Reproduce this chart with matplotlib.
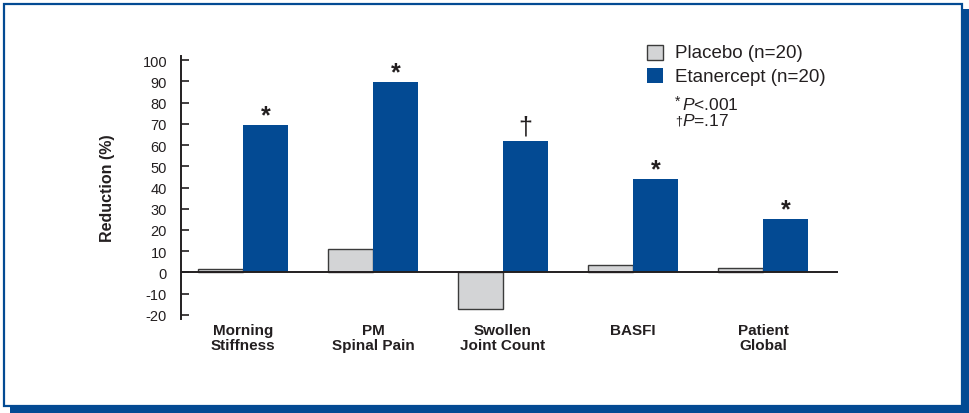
import numpy as np
import matplotlib.pyplot as plt
from matplotlib.patches import Rectangle

plt.rcParams['font.family'] = ['Liberation Sans', 'DejaVu Sans']
plt.rcParams['axes.unicode_minus'] = False
plt.rcParams['mathtext.fontset'] = 'custom'
plt.rcParams['mathtext.rm'] = 'Liberation Sans'
plt.rcParams['mathtext.it'] = 'Liberation Sans:italic'

categories = ['Morning\nStiffness', 'PM\nSpinal Pain', 'Swollen\nJoint Count',
              'BASFI', 'Patient\nGlobal']
placebo = [1.5, 11, -17, 3.5, 2]
etanercept = [69.5, 89.5, 62, 44, 25]
markers = ['*', '*', '\u2020', '*', '*']
yticks = list(range(-20, 101, 10))

BLUE = '#034a93'
GRAY = '#d3d4d6'
DARK = '#231f20'

W, H = 970, 414
fig = plt.figure(figsize=(W / 100, H / 100), dpi=100)


def px(x, y):
    # pixel position (from top-left) -> figure fraction
    return x / W, 1 - y / H


# panel frame with drop shadow, kept behind the axes
fig.patches.append(Rectangle(px(10, 414), 960 / W, 404 / H, transform=fig.transFigure,
                             facecolor=BLUE, edgecolor='none', zorder=-2))
fig.patches.append(Rectangle(px(4, 406.5), 958.5 / W, 401.5 / H, transform=fig.transFigure,
                             facecolor='white', edgecolor=BLUE, linewidth=1.6, zorder=-1))

ax = fig.add_axes([181 / W, (H - 320) / H, 657 / W, 263 / H])
ax.set_facecolor('none')
ax.set_zorder(2)

x = np.arange(len(categories))
width = 0.346
ax.bar(x - width / 2, placebo, width, color=GRAY, edgecolor='#3b3b3b', linewidth=1.0, zorder=2)
ax.bar(x + width / 2, etanercept, width, color=BLUE, edgecolor='none', zorder=2)
ax.axhline(0, color=DARK, linewidth=1.4, zorder=3)

# significance marks above the etanercept bars
for xi, val, m in zip(x, etanercept, markers):
    if m == '*':
        ax.annotate(m, (xi + width / 2, val), xytext=(0, 2), textcoords='offset points',
                    ha='center', va='baseline', fontsize=18, fontweight='bold', color=DARK)
    else:
        ax.annotate(m, (xi + width / 2, val), xytext=(0, 5.5), textcoords='offset points',
                    ha='center', va='baseline', fontsize=18, color=DARK)

ax.set_xlim(-0.477, 4.577)
ax.set_ylim(-21.9, 101.9)
ax.set_yticks(yticks)
ax.set_yticklabels([str(t) for t in yticks])
ax.tick_params(axis='y', direction='in', length=6, width=1.2, color=DARK,
               labelsize=10.5, labelcolor=DARK, pad=10)
ax.set_xticks(x)
ax.set_xticklabels(categories, fontsize=11, fontweight='bold', color=DARK,
                   linespacing=1.05, va='top')
ax.tick_params(axis='x', length=0, pad=3)

for side in ['top', 'right', 'bottom']:
    ax.spines[side].set_visible(False)
ax.spines['left'].set_color(DARK)
ax.spines['left'].set_linewidth(1.4)

ax.set_ylabel('Reduction (%)', fontsize=11.5, fontweight='bold', color=DARK)
ax.yaxis.set_label_coords(-0.1, 0.5)

# legend keys and notes
fig.patches.append(Rectangle(px(647.5, 60.5), 16 / W, 15 / H, transform=fig.transFigure,
                             facecolor=GRAY, edgecolor='#3b3b3b', linewidth=1.0, zorder=3))
fig.patches.append(Rectangle(px(647.5, 83.5), 16 / W, 15 / H, transform=fig.transFigure,
                             facecolor=BLUE, edgecolor='none', zorder=3))
fig.text(*px(675, 58.5), 'Placebo (n=20)', fontsize=13.5, color=DARK, va='baseline')
fig.text(*px(675, 82.5), 'Etanercept (n=20)', fontsize=13.5, color=DARK, va='baseline')

# footnote symbols drawn small, then the P values beside them
fig.text(*px(675, 106), '*', fontsize=10, color=DARK, va='baseline')
fig.text(*px(675, 124), '\u2020', fontsize=9, color=DARK, va='baseline')
fig.text(*px(682, 109.5), r'$\mathit{P}$<.001', fontsize=12.5, color=DARK, va='baseline')
fig.text(*px(682, 126), r'$\mathit{P}$=.17', fontsize=12.5, color=DARK, va='baseline')

fig.savefig('out.png', dpi=100)
